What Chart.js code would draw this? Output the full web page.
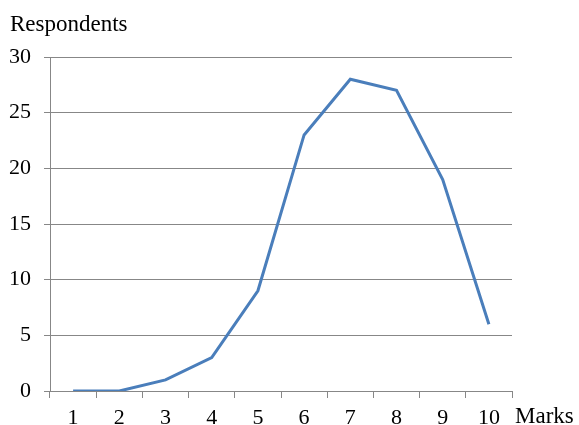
<!DOCTYPE html>
<html>
<head>
<meta charset="utf-8">
<script src="https://cdn.jsdelivr.net/npm/chart.js@4/dist/chart.umd.min.js"></script>
<style>
html,body{margin:0;padding:0;background:#fff;}
#wrap{width:579px;height:425px;position:relative;}
</style>
</head>
<body>
<div id="wrap"><canvas id="c" width="579" height="425"></canvas></div>
<script>
const categories = ['1','2','3','4','5','6','7','8','9','10'];
const respondents = [0, 0, 1, 3, 9, 23, 28, 27, 19, 6];
const yTitle = 'Respondents';
const xTitle = 'Marks';

const FONT = "'Liberation Serif', 'Times New Roman', serif";
const GRID = '#878787';

const titles = {
  id: 'titles',
  afterDraw(chart) {
    const ctx = chart.ctx;
    ctx.save();
    ctx.fillStyle = '#000';
    ctx.font = '23px ' + FONT;
    ctx.textAlign = 'left';
    ctx.textBaseline = 'alphabetic';
    ctx.fillText(yTitle, 10, 31);
    ctx.fillText(xTitle, chart.chartArea.right + 3, 423);
    ctx.restore();
  }
};

new Chart(document.getElementById('c'), {
  type: 'line',
  data: {
    labels: categories,
    datasets: [{
      data: respondents,
      borderColor: '#4A7EBB',
      borderWidth: 3,
      pointRadius: 0,
      tension: 0,
      fill: false
    }]
  },
  options: {
    responsive: false,
    animation: false,
    devicePixelRatio: 1,
    layout: { padding: { top: 57, right: 67, left: 0, bottom: 0 } },
    plugins: { legend: { display: false }, tooltip: { enabled: false }, title: { display: false } },
    scales: {
      x: {
        type: 'category',
        offset: true,
        grid: { offset: true, drawOnChartArea: false, drawTicks: true, tickLength: 7, color: GRID, lineWidth: 1 },
        border: { color: GRID, width: 1 },
        ticks: { font: { family: FONT, size: 22 }, color: '#000', padding: 7, maxRotation: 0, autoSkip: false },
        afterFit(s) { s.height = 34; }
      },
      y: {
        min: 0, max: 30,
        grid: { drawTicks: true, tickLength: 6, color: GRID, lineWidth: 1 },
        border: { color: GRID, width: 1 },
        ticks: { stepSize: 5, font: { family: FONT, size: 22 }, color: '#000', padding: 13 },
        afterFit(s) { s.width = 50; }
      }
    }
  },
  plugins: [titles]
});
</script>
</body>
</html>
